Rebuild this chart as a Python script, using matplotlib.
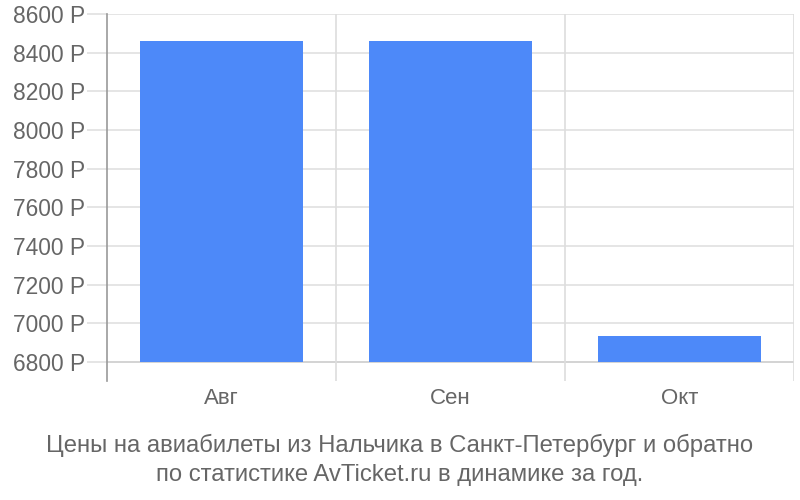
import numpy as np
import matplotlib.pyplot as plt

plt.rcParams['font.family'] = ['Liberation Sans', 'DejaVu Sans']

months = ['Авг', 'Сен', 'Окт']
prices = [8462, 8462, 6934]
yticks = [6800, 7000, 7200, 7400, 7600, 7800, 8000, 8200, 8400, 8600]
base = 6800
caption = ('Цены на авиабилеты из Нальчика в Санкт-Петербург и обратно\n'
           'по статистике AvTicket.ru в динамике за год.')

fig = plt.figure(figsize=(8, 5), dpi=100)
ax = fig.add_axes([0.13375, 0.238, 0.85875, 0.734])

x = np.arange(len(months))
heights = [p - base for p in prices]
ax.bar(x, heights, bottom=base, width=0.716, color='#4d89f9', zorder=3)

ax.set_xlim(-0.5, len(months) - 0.5)
ax.set_ylim(6702, 8600)
ax.set_yticks(yticks)
ax.set_yticklabels([str(v) + ' Р' for v in yticks])
for v in yticks:
    ax.axhline(v, color='#cccccc' if v == base else '#e0e0e0', lw=1.2, zorder=1)
for b in np.arange(len(months)) + 0.5:
    ax.axvline(b, color='#dddddd', lw=1.2, zorder=1)

ax.set_xticks(x)
ax.set_xticklabels(months)
ax.tick_params(axis='x', length=0, pad=5, labelsize=16, labelcolor='#666666')
ax.tick_params(axis='y', length=14.4, color='#e0e0e0', width=1.2, pad=1.5,
               labelsize=16.4, labelcolor='#666666')

for s in ['top', 'right', 'bottom']:
    ax.spines[s].set_visible(False)
ax.spines['left'].set_color('#999999')
ax.spines['left'].set_linewidth(1.2)

fig.text(0.5, 0.08, caption, ha='center', va='center', fontsize=17.2,
         color='#666666', linespacing=1.38)

fig.savefig('out.png', dpi=100)
